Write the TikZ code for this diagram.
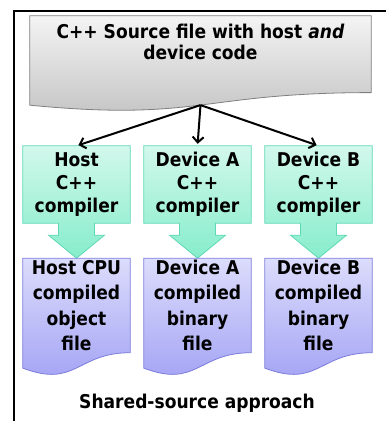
\documentclass[tikz,border=0pt]{standalone}
\usepackage{fontspec}
\setmainfont{DejaVu Sans Condensed}
\usetikzlibrary{positioning,calc,arrows.meta,backgrounds}

\definecolor{srctop}{HTML}{F4F4F4}
\definecolor{srcbot}{HTML}{C2C2C2}
\definecolor{srcline}{HTML}{7F7F7F}
\definecolor{cctop}{HTML}{D2F8EC}
\definecolor{ccbot}{HTML}{86EDCB}
\definecolor{ccline}{HTML}{5ED8B4}
\definecolor{objtop}{HTML}{DCDCFC}
\definecolor{objbot}{HTML}{A0A0F4}
\definecolor{objline}{HTML}{7C7CDC}

\tikzset{
  txt/.style={align=center, inner sep=0pt, font=\bfseries\fontsize{19}{23}\selectfont},
  srcdoc/.style={minimum width=341pt, minimum height=76.4pt, inner sep=0pt},
  compiler/.style={txt, minimum width=107pt, minimum height=77pt},
  objdoc/.style={txt, font=\bfseries\fontsize{19}{25.5}\selectfont, minimum width=107pt, minimum height=94pt},
  srcfill/.style={draw=srcline, line width=0.8pt, top color=srctop, bottom color=srcbot},
  ccfill/.style={draw=ccline, line width=0.8pt, top color=cctop, bottom color=ccbot},
  objfill/.style={draw=objline, line width=0.8pt, top color=objtop, bottom color=objbot},
  flow/.style={line width=2pt, -{Straight Barb[length=5.5pt,width=11pt]}, shorten >=2pt}
}

% document outline with a wavy lower edge below node #1
\newcommand\docwave[3]{%
  \path[#2] (#1.north west) -- (#1.north east) -- (#1.south east)
    .. controls (#1.south) and ($(#1.south)+(0,#3*0.305)$)
    .. ($(#1.south west)+(0,#3*0.132)$) -- cycle;}

% box with a fat arrow hanging below node #1
\newcommand\callout[2]{%
  \path[#2] (#1.north west) -- (#1.north east) -- (#1.south east)
    -- ($(#1.south)+(18,0)$) -- ($(#1.south)+(18,12)$) -- ($(#1.south)+(28,12)$)
    -- ($(#1.south)+(0,35)$)
    -- ($(#1.south)+(-28,12)$) -- ($(#1.south)+(-18,12)$) -- ($(#1.south)+(-18,0)$)
    -- (#1.south west) -- cycle;}

\begin{document}
\begin{tikzpicture}[x=1pt,y=-1pt,node distance=121pt,on grid]
  \useasboundingbox (0,0) rectangle (386,421);
  \draw[line width=2pt] (14,421) -- (14,11) -- (386,11);

  \node[srcdoc] (src) at (200.5,54.2) {};
  \node[txt, font=\bfseries\fontsize{19}{21}\selectfont, below=8.5pt of src.north] (srctxt)
    {C++ Source file with host \textit{and}\\device code};
  \coordinate (split) at ($(src.south)+(0,12.5)$);

  \node[compiler] (hostcc) at (76.5,184.5) {Host\\C++\\compiler};
  \node[compiler] (devacc) [right=of hostcc] {Device A\\C++\\compiler};
  \node[compiler] (devbcc) [right=of devacc] {Device B\\C++\\compiler};

  \node[objdoc] (hostobj) [below=of hostcc] {Host CPU\\compiled\\object\\file};
  \node[objdoc] (devaobj) [below=of devacc] {Device A\\compiled\\binary\\file};
  \node[objdoc] (devbobj) [below=of devbcc] {Device B\\compiled\\binary\\file};

  \node[txt] (caption) at (197,403) {Shared-source approach};

  \begin{scope}[on background layer]
    \docwave{src}{srcfill}{95.3}
    \callout{hostcc}{ccfill}
    \callout{devacc}{ccfill}
    \callout{devbcc}{ccfill}
    \docwave{hostobj}{objfill}{117}
    \docwave{devaobj}{objfill}{117}
    \docwave{devbobj}{objfill}{117}
  \end{scope}

  \draw[flow] (split) -- (hostcc.north);
  \draw[flow] (split) -- (devacc.north);
  \draw[flow] (split) -- (devbcc.north);
\end{tikzpicture}
\end{document}
